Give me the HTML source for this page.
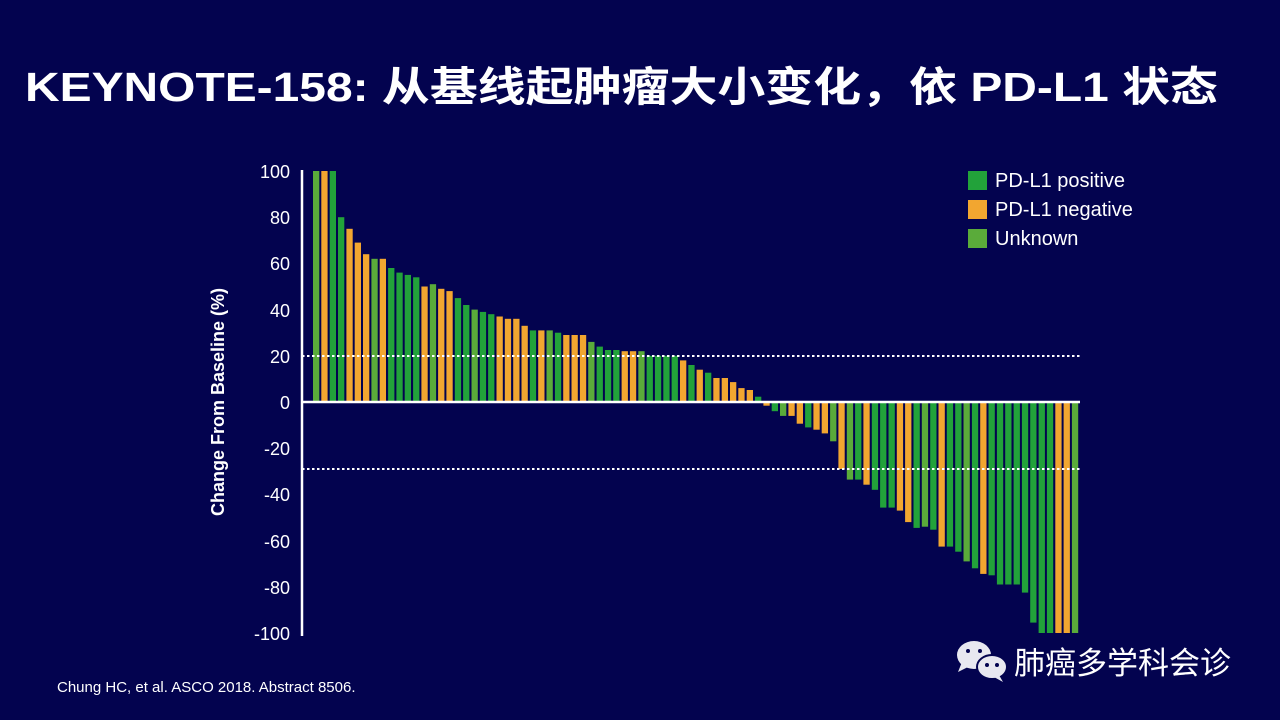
<!DOCTYPE html>
<html><head><meta charset="utf-8"><style>
html,body{margin:0;padding:0;background:#03034f;}
svg{display:block}
</style></head><body>
<svg id="s" width="1280" height="720" viewBox="0 0 1280 720" xmlns="http://www.w3.org/2000/svg">
<rect width="1280" height="720" fill="#03034f"/>
<text x="25" y="101" fill="#fff" font-family="Liberation Sans, Noto Sans CJK SC, sans-serif" font-weight="bold" font-size="41" textLength="1193" lengthAdjust="spacingAndGlyphs">KEYNOTE-158: 从基线起肿瘤大小变化，依 PD-L1 状态</text>
<g id="bars"></g>
<line x1="302" y1="402" x2="1080" y2="402" stroke="#fff" stroke-width="2.5"/>
<line x1="302" y1="356" x2="1080" y2="356" stroke="#fff" stroke-width="2" stroke-dasharray="2.5,2.5"/>
<line x1="302" y1="469" x2="1080" y2="469" stroke="#fff" stroke-width="2" stroke-dasharray="2.5,2.5"/>
<line x1="302" y1="170" x2="302" y2="636" stroke="#fff" stroke-width="2.5"/>
<g fill="#fff" font-family="Liberation Sans, sans-serif" font-size="18" text-anchor="end">
<text x="290" y="178">100</text><text x="290" y="224">80</text><text x="290" y="270">60</text><text x="290" y="317">40</text><text x="290" y="363">20</text><text x="290" y="409">0</text><text x="290" y="455">-20</text><text x="290" y="501">-40</text><text x="290" y="548">-60</text><text x="290" y="594">-80</text><text x="290" y="640">-100</text>
</g>
<text transform="translate(224,402) rotate(-90)" fill="#fff" font-family="Liberation Sans, sans-serif" font-weight="bold" font-size="18" text-anchor="middle">Change From Baseline (%)</text>
<g font-family="Liberation Sans, sans-serif" font-size="20" fill="#fff">
<rect x="968" y="171" width="19" height="19" fill="#22a23a"/><text x="995" y="187">PD-L1 positive</text>
<rect x="968" y="200" width="19" height="19" fill="#f2a630"/><text x="995" y="216">PD-L1 negative</text>
<rect x="968" y="229" width="19" height="19" fill="#5aab3a"/><text x="995" y="245">Unknown</text>
</g>
<text x="57" y="692" fill="#fff" font-family="Liberation Sans, sans-serif" font-size="15">Chung HC, et al. ASCO 2018. Abstract 8506.</text>
<g fill="#e8e8f0">
<ellipse cx="974" cy="655" rx="17" ry="14"/><path d="M962 662 L958 672 L970 666 Z"/>
<ellipse cx="992" cy="667" rx="15" ry="12" stroke="#03034f" stroke-width="2"/><path d="M999 675 L1003 682 L994 677 Z"/>
</g>
<g fill="#03034f"><circle cx="968" cy="651" r="2"/><circle cx="980" cy="651" r="2"/><circle cx="987" cy="665" r="2"/><circle cx="997" cy="665" r="2"/></g>
<text x="1014" y="674" fill="#fff" font-family="Noto Sans CJK SC, sans-serif" font-size="31">肺癌多学科会诊</text>
</svg>
<script>
var v=[100,100,100,80,75,69,64,62,62,58,56,55,54,50,51,49,48,45,42,40,39,38,37,36,36,33,31,31,31,30,29,29,29,26,24,22.5,22.5,22,22,22,20,20,20,20,18,16,14,12.7,10.4,10.4,8.6,6,5.2,2.3,-1.6,-4,-6,-6,-9.4,-11,-12,-13.6,-17,-29,-33.6,-33.6,-35.8,-38,-45.7,-45.7,-47,-52,-54.5,-54,-55.3,-62.6,-62.6,-64.8,-69,-72,-74.4,-75,-79,-79,-79,-82.5,-95.5,-100,-100,-100,-100,-100];
var org=[1,4,5,6,8,13,15,16,22,23,24,25,27,30,31,32,37,38,44,46,48,49,50,51,52,54,57,58,60,61,63,66,70,71,75,80,89,90];
var lt=[0,7,14,19,28,33,39,56,62,64,73,78,91];
var h="";
for(var i=0;i<v.length;i++){var x=313+i*8.34;var y0=402,y1=402-v[i]*2.31;var t=Math.min(y0,y1),hh=Math.abs(y1-y0);
var f=org.indexOf(i)>=0?"#f2a630":(lt.indexOf(i)>=0?"#5aab3a":"#22a23a");
h+='<rect x="'+x.toFixed(1)+'" y="'+t.toFixed(1)+'" width="6.3" height="'+hh.toFixed(1)+'" fill="'+f+'"/>';}
document.getElementById("bars").innerHTML=h;
</script>
</body></html>
